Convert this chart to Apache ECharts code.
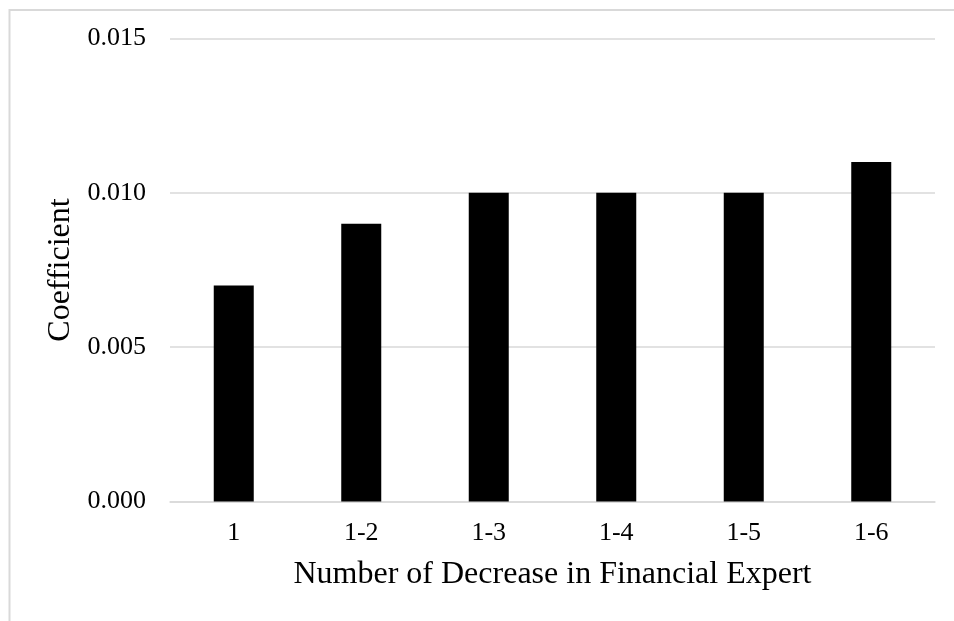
<!DOCTYPE html>
<html><head><meta charset="utf-8">
<script src="https://cdn.jsdelivr.net/npm/echarts@6/dist/echarts.min.js"></script>
<style>html,body{margin:0;padding:0;background:#fff}#c{width:954px;height:621px}</style>
</head><body><div id="c"></div>
<script>
const categories = ['1', '1-2', '1-3', '1-4', '1-5', '1-6'];
const coefficients = [0.007, 0.009, 0.010, 0.010, 0.010, 0.011];
const yTicks = [0, 0.005, 0.010, 0.015];
const xTitle = 'Number of Decrease in Financial Expert';
const yTitle = 'Coefficient';

const chart = echarts.init(document.getElementById('c'), null, {renderer: 'canvas'});
const font = '"Liberation Serif", "Times New Roman", serif';
chart.setOption({
  animation: false,
  graphic: [{
    type: 'rect', shape: {x: 9.5, y: 10, width: 1000, height: 1000},
    style: {fill: 'none', stroke: '#d9d9d9', lineWidth: 2}, silent: true
  }],
  grid: {left: 170, right: 19, top: 38.5, bottom: 119.5, containLabel: false},
  xAxis: {
    type: 'category', data: categories,
    name: xTitle, nameLocation: 'middle', nameGap: 57,
    nameTextStyle: {fontFamily: font, fontSize: 32, color: '#000'},
    axisLine: {show: true, lineStyle: {color: '#d9d9d9', width: 1.5}},
    axisTick: {show: false},
    axisLabel: {fontFamily: font, fontSize: 26, color: '#000', margin: 19}
  },
  yAxis: {
    type: 'value', min: yTicks[0], max: yTicks[yTicks.length - 1], interval: 0.005,
    name: yTitle, nameLocation: 'middle', nameGap: 92, nameRotate: 90,
    nameTextStyle: {fontFamily: font, fontSize: 32, color: '#000'},
    axisLine: {show: false}, axisTick: {show: false},
    axisLabel: {fontFamily: font, fontSize: 26, color: '#000', margin: 24,
      formatter: v => v.toFixed(3)},
    splitLine: {lineStyle: {color: '#d9d9d9', width: 1.5}}
  },
  series: [{
    type: 'bar', data: coefficients, barWidth: 40,
    itemStyle: {color: '#000'}
  }]
});
</script></body></html>
